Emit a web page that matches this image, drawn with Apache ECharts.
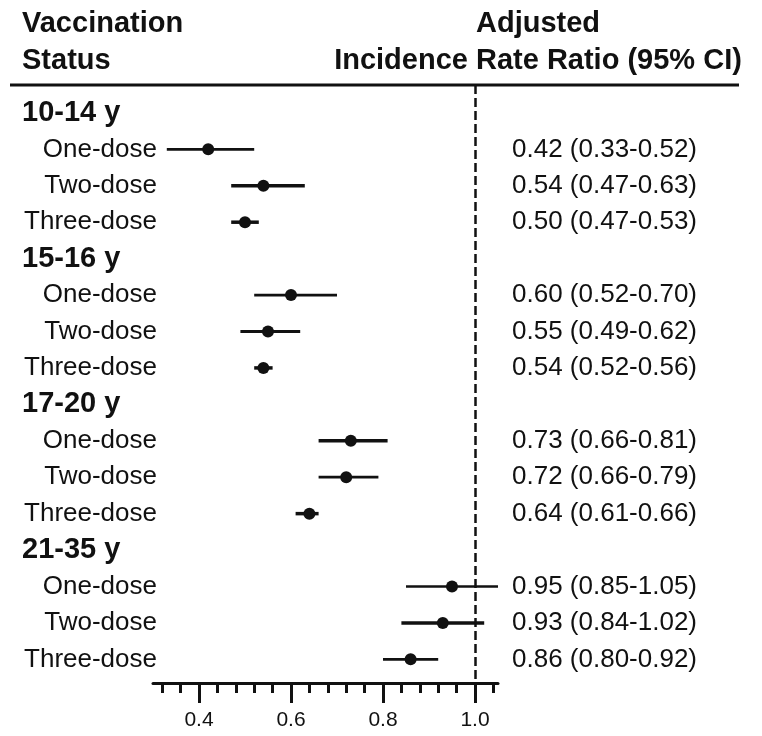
<!DOCTYPE html>
<html>
<head>
<meta charset="utf-8">
<script src="https://cdn.jsdelivr.net/npm/echarts@6/dist/echarts.min.js"></script>
<style>html,body{margin:0;padding:0;background:#fff}#c{width:762px;height:736px}</style>
</head>
<body>
<div id="c"></div>
<script>
// ---- data ----
const groups = ['10-14 y', '15-16 y', '17-20 y', '21-35 y'];
const doses = ['One-dose', 'Two-dose', 'Three-dose'];
const estimates = [0.42, 0.54, 0.50, 0.60, 0.55, 0.54, 0.73, 0.72, 0.64, 0.95, 0.93, 0.86];
const lower = [0.33, 0.47, 0.47, 0.52, 0.49, 0.52, 0.66, 0.66, 0.61, 0.85, 0.84, 0.80];
const upper = [0.52, 0.63, 0.53, 0.70, 0.62, 0.56, 0.81, 0.79, 0.66, 1.05, 1.02, 0.92];
const xTicksMajor = [0.4, 0.6, 0.8, 1.0];
const xTicksMinor = [0.32, 0.36, 0.40, 0.44, 0.48, 0.52, 0.56, 0.60, 0.64, 0.68, 0.72, 0.76, 0.80, 0.84, 0.88, 0.92, 0.96, 1.00, 1.04];
const refValue = 1.0;

// ---- styles ----
const ciWidths = [2.7, 3.5, 3.5, 2.7, 3.2, 3.5, 3.5, 2.7, 3.5, 2.7, 3.5, 2.7];
const FONT = '"Liberation Sans", Arial, Helvetica, sans-serif';
const INK = '#111';

// ---- build rows ----
const rows = [];
groups.forEach((g, gi) => {
  rows.push({ kind: 'group', label: g });
  doses.forEach((d, di) => {
    const k = gi * doses.length + di;
    rows.push({ kind: 'dose', label: d, k: k, est: estimates[k], lo: lower[k], hi: upper[k] });
  });
});
const fmt = v => v.toFixed(2);

const ciData = [], dotData = [], labelData = [];
rows.forEach((r, i) => {
  labelData.push([refValue, i]);
  if (r.kind === 'dose') {
    ciData.push([r.lo, r.hi, i, ciWidths[r.k]]);
    dotData.push([r.est, i]);
  }
});

const X_MIN = 0.3, X_MAX = 1.05;
const Y_MIN = -0.766, Y_MAX = 15.649;

const chart = echarts.init(document.getElementById('c'), null, { renderer: 'canvas' });
chart.setOption({
  animation: false,
  backgroundColor: '#fff',
  grid: { left: 153, right: 264, top: 85, bottom: 53 },
  xAxis: [
    {
      type: 'value', min: X_MIN, max: X_MAX, position: 'bottom',
      axisLine: { show: true, onZero: false, lineStyle: { color: INK, width: 3 } },
      axisTick: { show: true, customValues: xTicksMinor, length: 10, inside: false, lineStyle: { color: INK, width: 3 } },
      axisLabel: { show: false },
      splitLine: { show: false }
    },
    {
      type: 'value', min: X_MIN, max: X_MAX, position: 'bottom',
      axisLine: { show: false, onZero: false },
      axisTick: { show: true, customValues: xTicksMajor, length: 20, inside: false, lineStyle: { color: INK, width: 3 } },
      axisLabel: { show: true, customValues: xTicksMajor, formatter: v => v.toFixed(1), fontSize: 21, fontFamily: FONT, color: INK, margin: 27 },
      splitLine: { show: false }
    }
  ],
  yAxis: {
    type: 'value', min: Y_MIN, max: Y_MAX, inverse: true,
    axisLine: { show: false }, axisTick: { show: false }, axisLabel: { show: false }, splitLine: { show: false }
  },
  graphic: [
    { type: 'text', x: 22, y: 24, style: { text: 'Vaccination', font: 'bold 29px ' + FONT, fill: INK, align: 'left', verticalAlign: 'middle' } },
    { type: 'text', x: 22, y: 61, style: { text: 'Status', font: 'bold 29px ' + FONT, fill: INK, align: 'left', verticalAlign: 'middle' } },
    { type: 'text', x: 538, y: 24, style: { text: 'Adjusted', font: 'bold 29px ' + FONT, fill: INK, align: 'center', verticalAlign: 'middle' } },
    { type: 'text', x: 538, y: 61, style: { text: 'Incidence Rate Ratio (95% CI)', font: 'bold 29px ' + FONT, fill: INK, align: 'center', verticalAlign: 'middle' } },
    { type: 'line', shape: { x1: 10, y1: 85, x2: 739, y2: 85 }, style: { stroke: INK, lineWidth: 3 } }
  ],
  series: [
    {
      type: 'custom', name: 'ci', xAxisIndex: 0,
      data: ciData,
      encode: { x: [0, 1], y: 2 },
      renderItem: function (params, api) {
        const a = api.coord([api.value(0), api.value(2)]);
        const b = api.coord([api.value(1), api.value(2)]);
        return { type: 'line', shape: { x1: a[0], y1: a[1], x2: b[0], y2: b[1] }, style: { stroke: INK, lineWidth: api.value(3), lineCap: 'butt' } };
      },
      z: 2
    },
    {
      type: 'scatter', name: 'est', xAxisIndex: 0,
      data: dotData, symbol: 'circle', symbolSize: 12,
      itemStyle: { color: INK, opacity: 1 },
      z: 3,
      markLine: {
        silent: true, symbol: 'none', label: { show: false },
        lineStyle: { color: INK, width: 2.5, type: [9, 4], opacity: 1 },
        data: [{ xAxis: refValue }]
      }
    },
    {
      type: 'custom', name: 'labels', xAxisIndex: 0,
      data: labelData,
      encode: { x: 0, y: 1 },
      clip: false,
      renderItem: function (params, api) {
        const r = rows[params.dataIndex];
        const left = api.coord([X_MIN, api.value(1)]);
        const right = api.coord([X_MAX, api.value(1)]);
        const y = left[1];
        const children = [];
        if (r.kind === 'group') {
          children.push({ type: 'text', x: left[0] - 131, y: y, style: { text: r.label, font: 'bold 29px ' + FONT, fill: INK, align: 'left', verticalAlign: 'middle' } });
        } else {
          children.push({ type: 'text', x: left[0] + 4, y: y, style: { text: r.label, font: '26px ' + FONT, fill: INK, align: 'right', verticalAlign: 'middle' } });
          children.push({ type: 'text', x: right[0] + 14, y: y, style: { text: fmt(r.est) + ' (' + fmt(r.lo) + '-' + fmt(r.hi) + ')', font: '26px ' + FONT, fill: INK, align: 'left', verticalAlign: 'middle' } });
        }
        return { type: 'group', children: children };
      },
      z: 4
    }
  ]
});
</script>
</body>
</html>
